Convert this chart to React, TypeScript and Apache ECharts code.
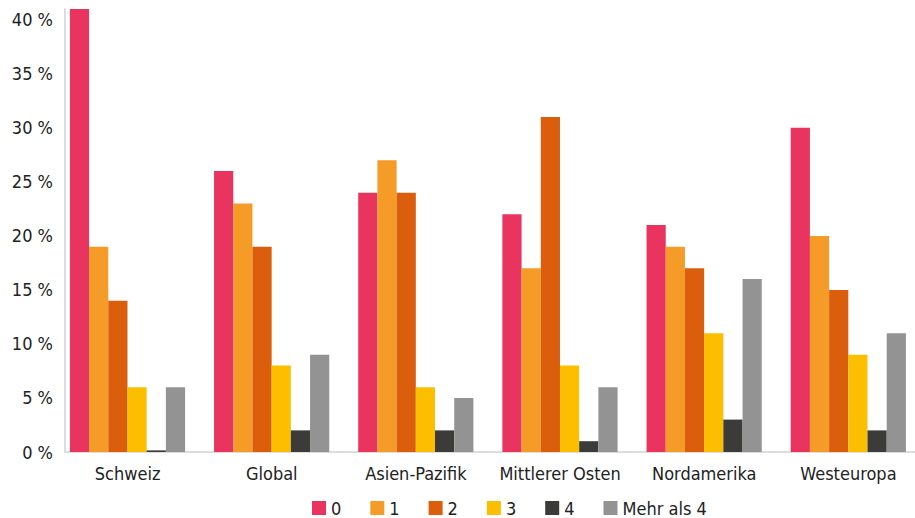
import React, { useEffect, useRef } from "react";
import * as echarts from "echarts";

const categories = ["Schweiz", "Global", "Asien-Pazifik", "Mittlerer Osten", "Nordamerika", "Westeuropa"];
const seriesNames = ["0", "1", "2", "3", "4", "Mehr als 4"];
const values0 = [41, 26, 24, 22, 21, 30];
const values1 = [19, 23, 27, 17, 19, 20];
const values2 = [14, 19, 24, 31, 17, 15];
const values3 = [6, 8, 6, 8, 11, 9];
const values4 = [0.15, 2, 2, 1, 3, 2];
const valuesMore = [6, 9, 5, 6, 16, 11];
const colors = ["#E8345E", "#F59B28", "#DA5E0B", "#FBBF00", "#3B3B39", "#939393"];

const FONT = "'Liberation Sans Narrow', 'DejaVu Sans Condensed', 'Arial Narrow', sans-serif";

export default function App() {
  const ref = useRef<HTMLDivElement>(null);
  useEffect(() => {
    if (!ref.current) return;
    const chart = echarts.init(ref.current, undefined, { renderer: "svg" });
    const allValues = [values0, values1, values2, values3, values4, valuesMore];
    const series: any[] = allValues.map((vals, i) => ({
      name: seriesNames[i],
      type: "bar",
      data: vals,
      barWidth: 19.2,
      barGap: "0%",
      itemStyle: { color: colors[i] },
    }));
    // spacer series (keeps the group offset like the reference)
    series.push({
      name: "spacer",
      type: "bar",
      data: categories.map(() => "-"),
      barWidth: 19.2,
      barGap: "0%",
      itemStyle: { color: "transparent" },
    });
    chart.setOption({
      animation: false,
      textStyle: { fontFamily: FONT },
      grid: { left: 65, top: 9, width: 865, height: 443, containLabel: false, outerBoundsMode: "none" },
      legend: {
        data: seriesNames,
        left: 312,
        top: 499,
        padding: 0,
        itemWidth: 14,
        itemHeight: 14,
        itemGap: 29,
        itemStyle: { borderWidth: 0 },
        icon: "rect",
        textStyle: { fontFamily: FONT, fontSize: 18, lineHeight: 18, color: "#222" },
      },
      xAxis: {
        type: "category",
        data: categories,
        axisLine: { lineStyle: { color: "#dddddd", width: 2 } },
        axisTick: { show: false },
        axisLabel: {
          interval: 0,
          fontFamily: FONT,
          fontSize: 18,
          color: "#222",
          margin: 12,
          padding: [0, 19, 0, 0],
        },
      },
      yAxis: {
        type: "value",
        min: 0,
        max: 41,
        interval: 5,
        axisLine: { show: true, lineStyle: { color: "#dddddd", width: 2 } },
        axisTick: { show: false },
        splitLine: { show: false },
        axisLabel: {
          fontFamily: FONT,
          fontSize: 18,
          color: "#222",
          margin: 12,
          formatter: (v: number) => (v % 5 === 0 ? `${v} %` : ""),
        },
      },
      series,
    });
    return () => chart.dispose();
  }, []);
  return <div ref={ref} style={{ width: 915, height: 518, position: "absolute", left: 0, top: 0 }} />;
}
